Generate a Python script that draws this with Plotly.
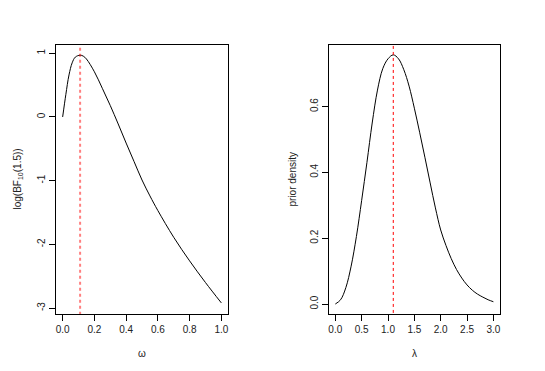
import plotly.graph_objects as go
from plotly.subplots import make_subplots

# left panel: log Bayes factor against omega
omega = [0, 0.02, 0.04, 0.06, 0.08, 0.11, 0.13, 0.15, 0.2, 0.25, 0.3, 0.35,
         0.4, 0.45, 0.5, 0.55, 0.6, 0.7, 0.8, 0.9, 1.0]
log_bf = [0, 0.35, 0.66, 0.85, 0.94, 0.97, 0.955, 0.91, 0.71, 0.45, 0.18, -0.11,
          -0.41, -0.70, -0.99, -1.24, -1.47, -1.89, -2.26, -2.60, -2.92]
omega_peak = 0.11

# right panel: prior density against lambda
lam = [0, 0.1, 0.2, 0.3, 0.4, 0.5, 0.6, 0.7, 0.8, 0.9, 1.0, 1.1, 1.2, 1.3, 1.4,
       1.5, 1.6, 1.7, 1.8, 1.9, 2.0, 2.1, 2.2, 2.3, 2.4, 2.5, 2.6, 2.7, 2.8,
       2.9, 3.0]
density = [0, 0.013, 0.05, 0.115, 0.205, 0.315, 0.43, 0.55, 0.65, 0.715, 0.745,
           0.757, 0.745, 0.712, 0.662, 0.595, 0.522, 0.446, 0.368, 0.292, 0.225,
           0.178, 0.138, 0.105, 0.079, 0.058, 0.042, 0.030, 0.021, 0.013, 0.007]
lam_peak = 1.1

x1_ticks = [0, 0.2, 0.4, 0.6, 0.8, 1.0]
x1_labels = ["0.0", "0.2", "0.4", "0.6", "0.8", "1.0"]
y1_ticks = [-3, -2, -1, 0, 1]
y1_labels = ["-3", "-2", "-1", "0", "1"]
x2_ticks = [0, 0.5, 1.0, 1.5, 2.0, 2.5, 3.0]
x2_labels = ["0.0", "0.5", "1.0", "1.5", "2.0", "2.5", "3.0"]
y2_ticks = [0, 0.2, 0.4, 0.6]
y2_labels = ["0.0", "0.2", "0.4", "0.6"]

W, H = 545, 371
OFF = 8  # the page puts the figure 8px in from the top-left corner
FONT = "Liberation Sans, Arial, Helvetica, sans-serif"


def px(x):
    return (x - OFF) / W


def py(y):
    return 1 - (y - OFF) / H


fig = make_subplots(rows=1, cols=2)

fig.add_trace(go.Scatter(x=omega, y=log_bf, mode="lines", line_shape="spline",
                         line=dict(color="black", width=1)), row=1, col=1)
fig.add_trace(go.Scatter(x=[omega_peak, omega_peak], y=[-3.2, 1.2], mode="lines",
                         line=dict(color="rgba(255,0,0,0.5)", width=2, dash="dot")),
              row=1, col=1)
fig.add_trace(go.Scatter(x=lam, y=density, mode="lines", line_shape="spline",
                         line=dict(color="black", width=1)), row=1, col=2)
fig.add_trace(go.Scatter(x=[lam_peak, lam_peak], y=[-0.1, 0.9], mode="lines",
                         line=dict(color="red", width=1, dash="3px,3px")),
              row=1, col=2)

ydom = [py(314), py(45)]
axis_common = dict(showline=True, linecolor="black", linewidth=1, mirror=True,
                   ticks="outside", ticklen=6, tickcolor="black", showgrid=False,
                   zeroline=False, tickfont=dict(family=FONT, size=10, color="#222"),
                   automargin=False)

fig.update_xaxes(domain=[px(56.3), px(227.7)], range=[-0.04, 1.04],
                 tickvals=x1_ticks, ticktext=x1_labels, row=1, col=1, **axis_common)
fig.update_yaxes(domain=ydom, range=[-3.094, 1.13], tickvals=y1_ticks,
                 ticktext=y1_labels, tickangle=-90, row=1, col=1, **axis_common)
fig.update_xaxes(domain=[px(329), px(499.7)], range=[-0.12, 3.12],
                 tickvals=x2_ticks, ticktext=x2_labels, row=1, col=2, **axis_common)
fig.update_yaxes(domain=ydom, range=[-0.0303, 0.787], tickvals=y2_ticks,
                 ticktext=y2_labels, tickangle=-90, row=1, col=2, **axis_common)

title_font = dict(family=FONT, size=10, color="#222")
titles = [
    ("ω", 142, 353, 0),
    ("λ", 414.5, 353, 0),
    ("log(BF<sub>10</sub>(1.5))", 17, 179.5, -90),
    ("prior density", 292, 179.5, -90),
]
for text, x, y, angle in titles:
    fig.add_annotation(text=text, x=px(x), y=py(y), xref="paper", yref="paper",
                       xanchor="center", yanchor="middle", showarrow=False,
                       textangle=angle, font=title_font)

fig.update_layout(width=W, height=H, margin=dict(l=0, r=0, t=0, b=0),
                  paper_bgcolor="white", plot_bgcolor="white", showlegend=False)

fig.write_html("out.html")
